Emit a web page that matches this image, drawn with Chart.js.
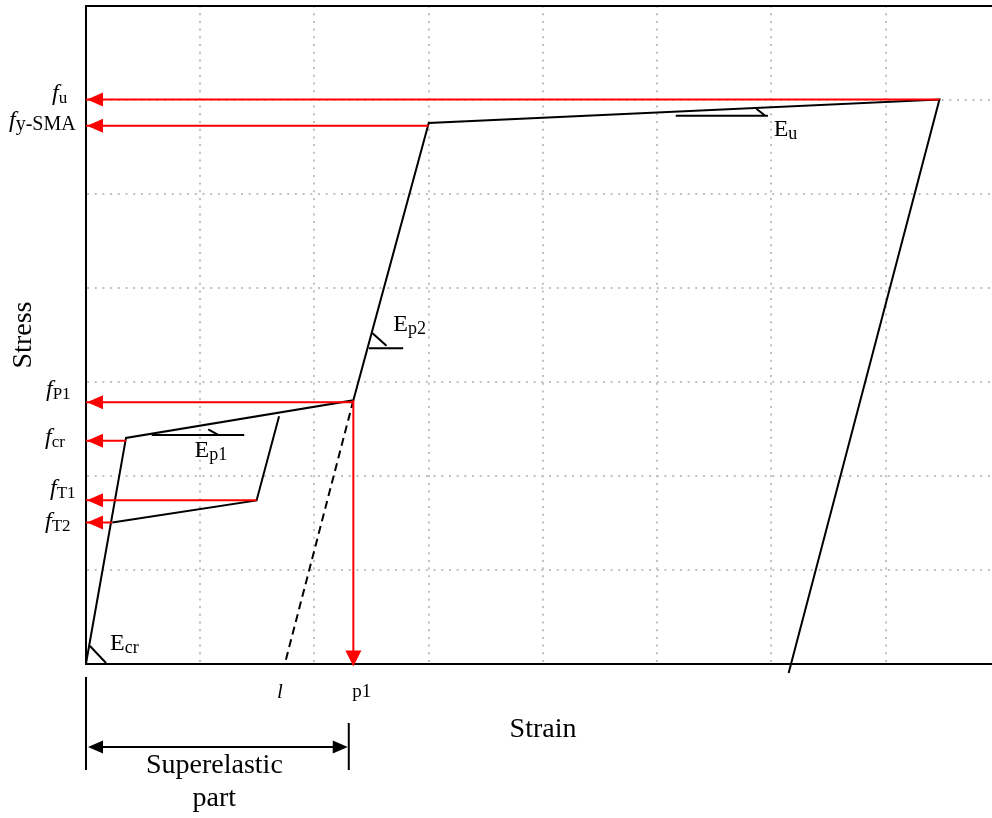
<!DOCTYPE html>
<html>
<head>
<meta charset="UTF-8" />
<title>SMA stress-strain</title>
<script src="https://cdn.jsdelivr.net/npm/chart.js"></script>
<style>
  body { margin: 0; background: #fff; }
  #wrap { width: 992px; height: 818px; }
</style>
</head>
<body>
<div id="wrap"><canvas id="chart" width="992" height="818"></canvas></div>
<script>
  // main stress-strain path (loading, plateau, hardening, unloading)
  const curveStrain = [0, 0.35, 2.34, 3.0, 7.47, 6.15];
  const curveStress = [0, 2.40, 2.80, 5.75, 6.0, -0.1];
  // inner partial unloading loop
  const loopStrain = [1.69, 1.493, 0.23];
  const loopStress = [2.63, 1.735, 1.50];
  // elastic unloading from p1 (dashed)
  const dashStrain = [2.34, 1.741];
  const dashStress = [2.80, 0];
  // stress levels marked on the stress axis
  const levelNames = ['u', 'y-SMA', 'P1', 'cr', 'T1', 'T2'];
  const levelStress = [6.0, 5.72, 2.78, 2.37, 1.736, 1.50];
  const levelFrom = [7.47, 3.0, 2.34, 0.35, 1.493, 0.23];
  // strain points on the strain axis
  const p1Strain = 2.34;
  const lStrain = 1.741;
  const superEnd = 2.30;
  const gridTicks = [0, 1, 2, 3, 4, 5, 6, 7];

  const RED = '#ff0000';
  const SERIF = '"Liberation Serif", "Times New Roman", serif';

  const pts = (xs, ys) => xs.map((x, i) => ({ x: x, y: ys[i] }));
  const line = (data, color, extra) => Object.assign({
    data: data, showLine: true, borderColor: color, borderWidth: 2,
    pointRadius: 0, tension: 0, fill: false
  }, extra || {});

  const datasets = [];
  levelStress.forEach((s, i) => {
    datasets.push(line([{ x: levelFrom[i], y: s }, { x: 0, y: s }], RED));
  });
  datasets.push(line([{ x: p1Strain, y: curveStress[2] }, { x: p1Strain, y: 0 }], RED));
  datasets.push(line(pts(curveStrain, curveStress), '#000', { clip: false }));
  datasets.push(line(pts(loopStrain, loopStress), '#000'));
  datasets.push(line(pts(dashStrain, dashStress), '#000', { borderDash: [8, 5] }));

  // modulus markers: base line + small tick, in data units
  const moduli = [
    { sub: 'u',  at: [6.019, 5.612], base: [5.162, 5.828, 5.969, 5.828], tick: [5.867, 5.902, 5.946, 5.828] },
    { sub: 'p2', at: [2.690, 3.537], base: [2.476, 3.353, 2.776, 3.353], tick: [2.508, 3.513, 2.630, 3.381] },
    { sub: 'p1', at: [0.950, 2.200], base: [0.575, 2.431, 1.385, 2.431], tick: [1.070, 2.491, 1.157, 2.431] },
    { sub: 'cr', at: [0.210, 0.144], base: null, tick: [0.035, 0.186, 0.175, 0.005] }
  ];
  // label nudges for the stress-axis names (left x in px, baseline offset in px)
  const levelLabelX = [52, 9, 46, 45, 50, 45];
  const levelLabelDy = [0, 1, -6, 3, -5, 5];

  function arrowHead(ctx, tx, ty, dx, dy, len, half, color) {
    const bx = tx - dx * len, by = ty - dy * len;
    ctx.beginPath();
    ctx.moveTo(tx, ty);
    ctx.lineTo(bx - dy * half, by + dx * half);
    ctx.lineTo(bx + dy * half, by - dx * half);
    ctx.closePath();
    ctx.fillStyle = color;
    ctx.fill();
  }

  function subText(ctx, x, y, main, sub, mainFont, subFont, subDy) {
    ctx.font = mainFont;
    ctx.fillText(main, x, y);
    const w = ctx.measureText(main).width;
    ctx.font = subFont;
    ctx.fillText(sub, x + w, y + subDy);
  }

  const annotations = {
    id: 'annotations',
    afterDatasetsDraw(chart) {
      const ctx = chart.ctx;
      const xs = chart.scales.x, ys = chart.scales.y;
      const px = v => xs.getPixelForValue(v), py = v => ys.getPixelForValue(v);
      ctx.save();
      // arrow heads on stress axis
      levelStress.forEach(s => arrowHead(ctx, px(0) + 1, py(s), -1, 0, 16, 7, RED));
      arrowHead(ctx, px(p1Strain), py(0) + 3, 0, 1, 16, 8, RED);

      // modulus markers
      ctx.strokeStyle = '#000';
      ctx.lineWidth = 2;
      ctx.fillStyle = '#000';
      ctx.textAlign = 'left';
      ctx.textBaseline = 'alphabetic';
      moduli.forEach(m => {
        ctx.beginPath();
        if (m.base) {
          ctx.moveTo(px(m.base[0]), py(m.base[1]));
          ctx.lineTo(px(m.base[2]), py(m.base[3]));
        }
        ctx.moveTo(px(m.tick[0]), py(m.tick[1]));
        ctx.lineTo(px(m.tick[2]), py(m.tick[3]));
        ctx.stroke();
        subText(ctx, px(m.at[0]), py(m.at[1]), 'E', m.sub,
          '24px ' + SERIF, '18px ' + SERIF, 3);
      });
      ctx.restore();
    },
    afterDraw(chart) {
      const ctx = chart.ctx;
      const xs = chart.scales.x, ys = chart.scales.y;
      const px = v => xs.getPixelForValue(v), py = v => ys.getPixelForValue(v);
      ctx.save();
      ctx.fillStyle = '#000';
      ctx.textBaseline = 'alphabetic';

      // stress level names
      ctx.textAlign = 'left';
      levelNames.forEach((n, i) => {
        const subSize = n === 'y-SMA' ? 20 : 17;
        subText(ctx, levelLabelX[i], py(levelStress[i]) + levelLabelDy[i], 'f', n,
          'italic 24px ' + SERIF, subSize + 'px ' + SERIF, 3);
      });

      // strain axis point names
      ctx.font = 'italic 21px ' + SERIF;
      ctx.textAlign = 'center';
      ctx.fillText('l', px(lStrain) - 5, 698);
      ctx.font = '19px ' + SERIF;
      ctx.textAlign = 'left';
      ctx.fillText('p1', px(p1Strain) - 1, 697);

      // axis titles
      ctx.font = '28px ' + SERIF;
      ctx.textAlign = 'center';
      ctx.fillText('Strain', 543, 737);
      ctx.save();
      ctx.translate(31, 335);
      ctx.rotate(-Math.PI / 2);
      ctx.fillText('Stress', 0, 0);
      ctx.restore();

      // superelastic range bracket
      const x0 = px(0), x1 = px(superEnd), yb = 747;
      ctx.strokeStyle = '#000';
      ctx.lineWidth = 2;
      ctx.beginPath();
      ctx.moveTo(x0, 677); ctx.lineTo(x0, 770);
      ctx.moveTo(x1, 723); ctx.lineTo(x1, 770);
      ctx.moveTo(x0 + 10, yb); ctx.lineTo(x1 - 10, yb);
      ctx.stroke();
      arrowHead(ctx, x0 + 2, yb, -1, 0, 15, 6.5, '#000');
      arrowHead(ctx, x1 - 1, yb, 1, 0, 15, 6.5, '#000');
      ctx.fillStyle = '#000';
      ctx.font = '28px ' + SERIF;
      ctx.textAlign = 'center';
      ctx.fillText('Superelastic', (x0 + x1) / 2 - 3, 773);
      ctx.fillText('part', (x0 + x1) / 2 - 3, 806);
      ctx.restore();
    }
  };

  const gridOpts = { color: '#c0c0c0', lineWidth: 2, drawTicks: false };
  const fixTicks = s => { s.ticks = gridTicks.map(v => ({ value: v })); };

  new Chart(document.getElementById('chart'), {
    type: 'scatter',
    data: { datasets: datasets },
    options: {
      responsive: false,
      animation: false,
      devicePixelRatio: 1,
      layout: { padding: { left: 86, right: 0, top: 5.5, bottom: 154.5 } },
      plugins: { legend: { display: false }, tooltip: { enabled: false } },
      scales: {
        x: {
          type: 'linear', min: 0, max: 7.93,
          afterBuildTicks: fixTicks,
          ticks: { display: false },
          grid: gridOpts,
          border: { color: '#000', width: 2, dash: [2, 5.7] }
        },
        xTop: {
          type: 'linear', position: 'top', min: 0, max: 7.93,
          ticks: { display: false },
          grid: { display: false, drawTicks: false },
          border: { color: '#000', width: 2 }
        },
        y: {
          type: 'linear', min: 0, max: 7,
          afterBuildTicks: fixTicks,
          ticks: { display: false },
          grid: gridOpts,
          border: { color: '#000', width: 2, dash: [2, 5.7] }
        }
      }
    },
    plugins: [annotations]
  });
</script>
</body>
</html>
